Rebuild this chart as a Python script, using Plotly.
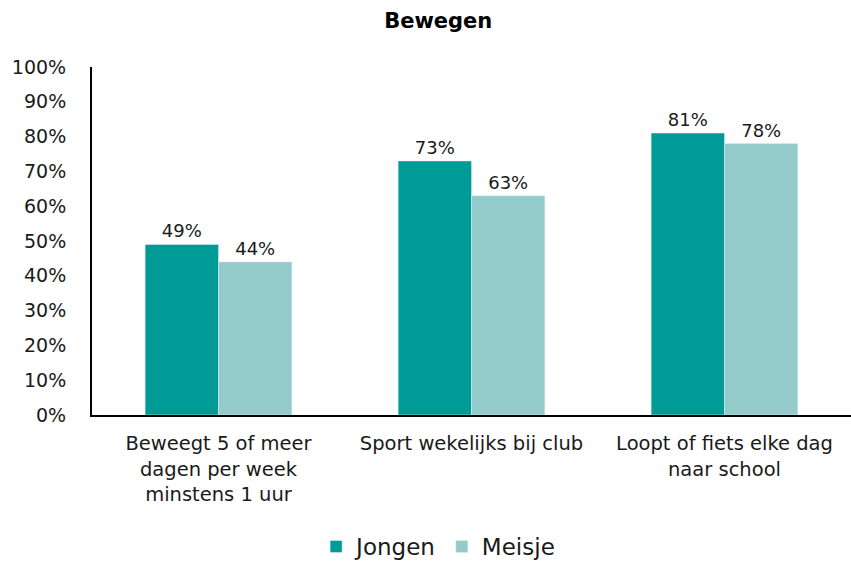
import plotly.graph_objects as go

categories = [
    "Beweegt 5 of meer<br>dagen per week<br>minstens 1 uur",
    "Sport wekelijks bij club",
    "Loopt of fiets elke dag<br>naar school",
]
jongen = [49, 73, 81]
meisje = [44, 63, 78]
tick_vals = [0, 10, 20, 30, 40, 50, 60, 70, 80, 90, 100]
tick_text = [f"{v}%" for v in tick_vals]

FONT = "DejaVu Sans"

fig = go.Figure()
fig.add_trace(go.Bar(
    name="Jongen", x=categories, y=jongen,
    marker_color="#009A97",
    text=[f"{v}%" for v in jongen], textposition="outside",
    textfont=dict(size=18, color="#1a1a1a", family=FONT),
    cliponaxis=False,
))
fig.add_trace(go.Bar(
    name="Meisje", x=categories, y=meisje,
    marker_color="#93CBCB",
    text=[f"{v}%" for v in meisje], textposition="outside",
    textfont=dict(size=18, color="#1a1a1a", family=FONT),
    cliponaxis=False,
))

fig.update_layout(
    width=851, height=561,
    margin=dict(l=92, r=0, t=67, b=146, autoexpand=False),
    paper_bgcolor="white", plot_bgcolor="white",
    font=dict(family=FONT, size=18, color="#1a1a1a"),
    title=dict(text="<b>Bewegen</b>", x=0.515, xanchor="center", y=0.963, yanchor="middle",
               font=dict(size=21, family=FONT, color="black")),
    barmode="group", bargap=0.42, bargroupgap=0,
    showlegend=True,
    legend=dict(orientation="h", x=0.456, xanchor="center", y=-0.378, yanchor="middle",
                font=dict(size=23, family=FONT), itemwidth=30, traceorder="normal"),
    xaxis=dict(showline=True, linecolor="black", linewidth=2, ticks="",
               automargin=False, ticklabelstandoff=10,
               tickfont=dict(size=19.5, family=FONT), showgrid=False),
    yaxis=dict(range=[0, 100], tickvals=tick_vals, ticktext=tick_text,
               showline=True, linecolor="black", linewidth=2, ticks="",
               automargin=False,
               showgrid=False, zeroline=False, ticklabelstandoff=20,
               tickfont=dict(size=19, family=FONT)),
)

fig.write_html("out.html")
